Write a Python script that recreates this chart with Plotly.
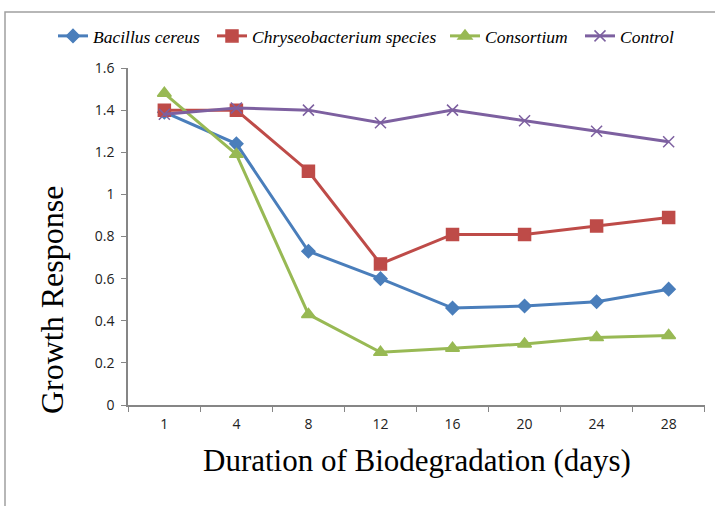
import plotly.graph_objects as go

days = ["1", "4", "8", "12", "16", "20", "24", "28"]
bacillus = [1.39, 1.24, 0.73, 0.60, 0.46, 0.47, 0.49, 0.55]
chryseo = [1.40, 1.40, 1.11, 0.67, 0.81, 0.81, 0.85, 0.89]
consortium = [1.48, 1.19, 0.43, 0.25, 0.27, 0.29, 0.32, 0.33]
control = [1.38, 1.41, 1.40, 1.34, 1.40, 1.35, 1.30, 1.25]

series = [
    ("Bacillus cereus", bacillus, "#4A7EBB", "diamond", 10),
    ("Chryseobacterium species", chryseo, "#BE4B48", "square", 12),
    ("Consortium", consortium, "#98B954", "triangle-up", 12),
    ("Control", control, "#7D60A0", "x-thin-open", 11),
]

W, H = 715, 506
ml, mr, mt, mb = 128, 10, 68, 101
pw, ph = W - ml - mr, H - mt - mb

legend_ids = ["legend", "legend2", "legend3", "legend4"]
legend_x = [53, 212, 445, 580]

fig = go.Figure()
for (name, vals, col, sym, sz), lid in zip(series, legend_ids):
    fig.add_trace(go.Scatter(
        x=days, y=vals, name=name, mode="lines+markers",
        line=dict(color=col, width=3),
        marker=dict(symbol=sym, size=sz, color=col,
                    line=dict(color=col, width=1.5)),
        legend=lid,
    ))

legfont = dict(family="Liberation Serif", size=17.5, color="black", style="italic")
legends = {}
for lid, lx in zip(legend_ids, legend_x):
    legends[lid] = dict(orientation="h", xref="container", yref="container",
                        x=lx / W, xanchor="left", y=1 - 36 / H, yanchor="middle",
                        font=legfont, bgcolor="rgba(0,0,0,0)")

fig.update_layout(
    width=W, height=H,
    margin=dict(l=ml, r=mr, t=mt, b=mb, autoexpand=False),
    paper_bgcolor="white", plot_bgcolor="white",
    showlegend=True,
    xaxis=dict(type="category", showgrid=False, showline=True, linecolor="#868686",
               linewidth=1.5, ticks="outside", tickson="boundaries", ticklen=5,
               tickcolor="#868686", automargin=False, ticklabelstandoff=5,
               tickfont=dict(family="Open Sans", size=14, color="#222")),
    yaxis=dict(range=[0, 1.6], dtick=0.2, showgrid=False, showline=True,
               linecolor="#868686", linewidth=1.5, ticks="outside", ticklen=5,
               tickcolor="#868686", zeroline=False, automargin=False, ticklabelstandoff=4,
               tickfont=dict(family="Open Sans", size=14, color="#222")),
    **legends,
)

fig.add_annotation(text="Duration of Biodegradation (days)", xref="paper", yref="paper",
                   x=0.5, y=-(460 - mt - ph) / ph, xanchor="center", yanchor="middle",
                   showarrow=False,
                   font=dict(family="Liberation Serif", size=31, color="black"))
fig.add_annotation(text="Growth Response", xref="paper", yref="paper",
                   x=(52 - ml) / pw, y=1 - (300 - mt) / ph, xanchor="center", yanchor="middle",
                   textangle=-90, showarrow=False,
                   font=dict(family="Liberation Serif", size=32, color="black"))

# outer chart border
fig.add_shape(type="rect", xref="paper", yref="paper",
              x0=(5 - ml) / pw, x1=(W + 5 - ml) / pw,
              y0=-(H + 5 - mt - ph) / ph, y1=1 + (mt - 12) / ph,
              line=dict(color="#A0A0A0", width=1.5), layer="below")

fig.write_html("out.html", config={"displayModeBar": False},
               post_script="document.body.style.margin='0';document.body.style.overflow='hidden';")
